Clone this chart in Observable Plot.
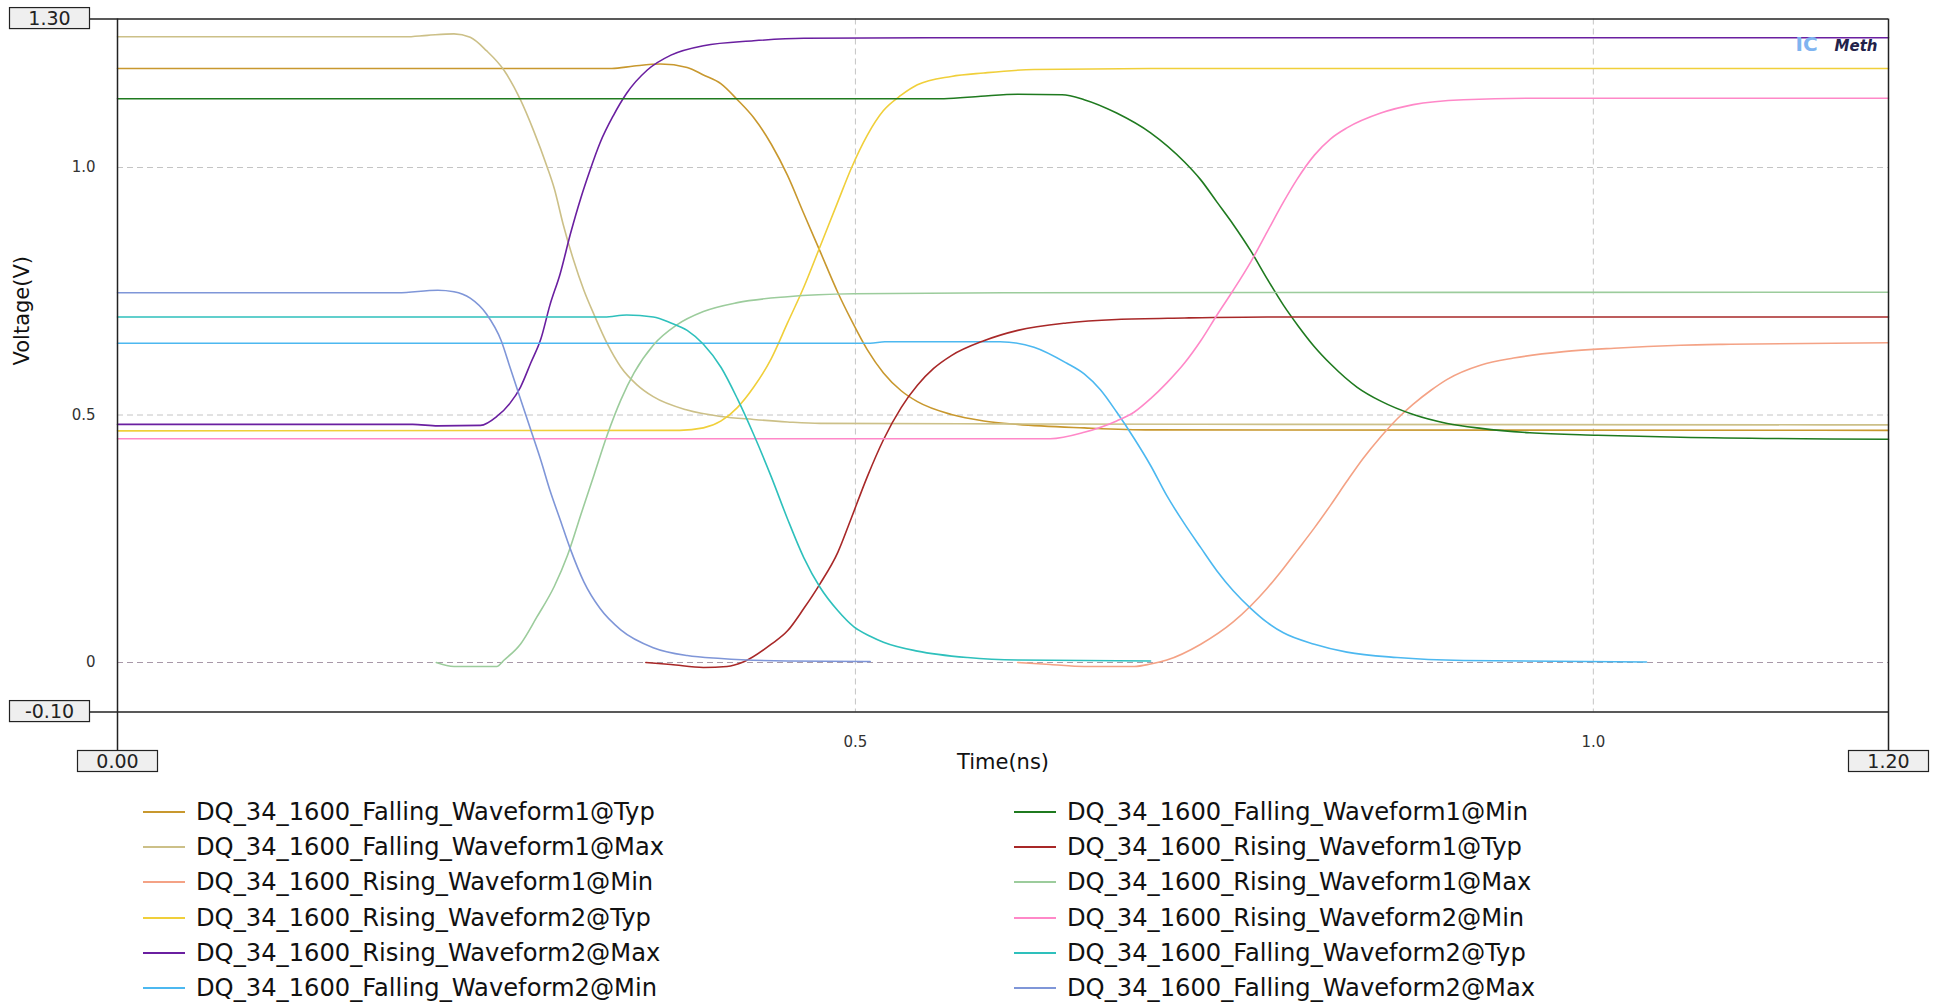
<!DOCTYPE html>
<html><head><meta charset="utf-8">
<script src="https://cdn.jsdelivr.net/npm/d3@7"></script>
<script src="https://cdn.jsdelivr.net/npm/@observablehq/plot@0.6"></script>
<style>
body{margin:0;background:#fff;font-family:"DejaVu Sans",sans-serif;}
#chart svg{display:block;}
#legend{display:grid;grid-template-columns:871px 871px;grid-auto-rows:35.3px;padding:4px 0 0 143px;width:1790px;}
.item{display:flex;align-items:center;font-size:24.2px;color:#111;white-space:nowrap;}
.item .sw{width:42px;height:0;border-top:2px solid;margin-right:11px;}
</style></head><body>
<div id="chart"></div><div id="legend"></div>
<script>
// ---- data: [time (ns), voltage (V)] ----
const fall1Typ = [[0,1.2],[0.335,1.2],[0.35,1.205],[0.368,1.209],[0.386,1.202],[0.397,1.187],[0.409,1.169],[0.42,1.137],[0.431,1.101],[0.443,1.047],[0.454,0.984],[0.465,0.907],[0.476,0.831],[0.488,0.748],[0.497,0.693],[0.508,0.632],[0.519,0.585],[0.531,0.549],[0.542,0.527],[0.565,0.501],[0.587,0.488],[0.61,0.481],[0.655,0.474],[0.7,0.47],[1.2,0.469]];
const fall1Max = [[0,1.264],[0.195,1.264],[0.21,1.267],[0.228,1.27],[0.239,1.263],[0.25,1.236],[0.262,1.196],[0.273,1.137],[0.282,1.074],[0.291,1.002],[0.296,0.957],[0.302,0.885],[0.309,0.813],[0.316,0.752],[0.323,0.702],[0.332,0.643],[0.341,0.597],[0.352,0.561],[0.363,0.537],[0.386,0.51],[0.409,0.497],[0.431,0.491],[0.454,0.486],[0.476,0.483],[0.6,0.482],[0.8,0.481],[1.2,0.48]];
const rise1Min = [[0.61,0],[0.632,-0.004],[0.655,-0.008],[0.689,-0.008],[0.7,-0.003],[0.711,0.005],[0.734,0.037],[0.756,0.082],[0.779,0.15],[0.79,0.19],[0.799,0.225],[0.811,0.272],[0.822,0.318],[0.833,0.366],[0.844,0.412],[0.856,0.456],[0.867,0.492],[0.878,0.522],[0.89,0.55],[0.901,0.572],[0.924,0.601],[0.946,0.615],[0.98,0.628],[1.014,0.635],[1.059,0.641],[1.093,0.643],[1.2,0.646]];
const rise2Typ = [[0,0.468],[0.381,0.469],[0.397,0.474],[0.409,0.488],[0.42,0.515],[0.431,0.556],[0.443,0.614],[0.454,0.686],[0.465,0.758],[0.476,0.84],[0.488,0.93],[0.497,0.997],[0.508,1.065],[0.519,1.115],[0.531,1.146],[0.542,1.167],[0.565,1.184],[0.587,1.191],[0.621,1.198],[0.7,1.2],[1.2,1.2]];
const rise2Max = [[0,0.481],[0.2,0.481],[0.217,0.478],[0.246,0.479],[0.257,0.497],[0.266,0.524],[0.273,0.556],[0.28,0.605],[0.287,0.655],[0.293,0.722],[0.3,0.786],[0.307,0.867],[0.314,0.939],[0.32,0.993],[0.327,1.05],[0.336,1.105],[0.345,1.15],[0.359,1.197],[0.375,1.227],[0.397,1.246],[0.431,1.256],[0.465,1.261],[0.55,1.262],[1.2,1.262]];
const fall2Min = [[0,0.645],[0.51,0.645],[0.52,0.648],[0.598,0.648],[0.621,0.637],[0.643,0.605],[0.655,0.583],[0.666,0.551],[0.677,0.506],[0.689,0.452],[0.7,0.398],[0.711,0.337],[0.723,0.28],[0.734,0.232],[0.745,0.185],[0.756,0.145],[0.768,0.109],[0.779,0.081],[0.79,0.06],[0.811,0.037],[0.833,0.021],[0.867,0.01],[0.912,0.004],[1.036,0.001]];
const fall1Min = [[0,1.139],[0.56,1.139],[0.585,1.144],[0.61,1.148],[0.64,1.147],[0.655,1.137],[0.677,1.11],[0.7,1.07],[0.723,1.011],[0.734,0.975],[0.745,0.93],[0.756,0.885],[0.768,0.831],[0.779,0.775],[0.79,0.722],[0.8,0.68],[0.811,0.638],[0.822,0.603],[0.84,0.556],[0.856,0.528],[0.878,0.501],[0.901,0.483],[0.924,0.473],[0.957,0.464],[1.003,0.459],[1.059,0.455],[1.2,0.451]];
const rise1Typ = [[0.358,0],[0.375,-0.004],[0.397,-0.01],[0.413,-0.008],[0.424,0.001],[0.443,0.037],[0.454,0.064],[0.465,0.109],[0.476,0.159],[0.488,0.222],[0.497,0.29],[0.508,0.375],[0.519,0.45],[0.531,0.515],[0.542,0.56],[0.553,0.594],[0.565,0.62],[0.587,0.65],[0.61,0.671],[0.643,0.686],[0.677,0.693],[0.723,0.696],[0.779,0.698],[1.2,0.698]];
const rise1Max = [[0.216,0],[0.228,-0.008],[0.257,-0.008],[0.262,0.005],[0.273,0.037],[0.284,0.091],[0.296,0.154],[0.305,0.217],[0.314,0.299],[0.323,0.38],[0.332,0.461],[0.341,0.53],[0.35,0.585],[0.363,0.641],[0.379,0.682],[0.397,0.709],[0.42,0.727],[0.454,0.739],[0.499,0.745],[0.6,0.747],[1.2,0.748]];
const rise2Min = [[0,0.452],[0.632,0.452],[0.655,0.465],[0.677,0.488],[0.689,0.506],[0.7,0.533],[0.711,0.565],[0.723,0.605],[0.734,0.65],[0.745,0.702],[0.756,0.752],[0.768,0.81],[0.779,0.87],[0.79,0.93],[0.799,0.975],[0.811,1.025],[0.822,1.058],[0.833,1.08],[0.856,1.11],[0.878,1.127],[0.912,1.137],[0.957,1.14],[1.2,1.14]];
const fall2Typ = [[0,0.698],[0.33,0.698],[0.345,0.702],[0.363,0.698],[0.375,0.686],[0.386,0.671],[0.397,0.643],[0.409,0.596],[0.42,0.533],[0.431,0.461],[0.443,0.375],[0.454,0.29],[0.465,0.212],[0.476,0.152],[0.488,0.105],[0.499,0.072],[0.51,0.053],[0.519,0.041],[0.542,0.023],[0.576,0.01],[0.61,0.005],[0.7,0.003]];
const fall2Max = [[0,0.747],[0.19,0.747],[0.217,0.752],[0.228,0.749],[0.239,0.736],[0.25,0.704],[0.26,0.65],[0.266,0.596],[0.273,0.533],[0.28,0.47],[0.287,0.407],[0.293,0.348],[0.3,0.288],[0.307,0.228],[0.316,0.163],[0.327,0.109],[0.341,0.066],[0.363,0.03],[0.386,0.014],[0.409,0.008],[0.454,0.003],[0.51,0.002]];

const names = [
  "DQ_34_1600_Falling_Waveform1@Typ","DQ_34_1600_Falling_Waveform1@Max","DQ_34_1600_Rising_Waveform1@Min",
  "DQ_34_1600_Rising_Waveform2@Typ","DQ_34_1600_Rising_Waveform2@Max","DQ_34_1600_Falling_Waveform2@Min",
  "DQ_34_1600_Falling_Waveform1@Min","DQ_34_1600_Rising_Waveform1@Typ","DQ_34_1600_Rising_Waveform1@Max",
  "DQ_34_1600_Rising_Waveform2@Min","DQ_34_1600_Falling_Waveform2@Typ","DQ_34_1600_Falling_Waveform2@Max"];
const colors = ["#c8982e","#ccc088","#f4a285","#f0cf3a","#6a1fa0","#4cb8f0",
                "#1f7a1f","#a82828","#9ccc9c","#ff88c8","#2ec0bc","#7f96d8"];
const seriesPts = [fall1Typ,fall1Max,rise1Min,rise2Typ,rise2Max,fall2Min,fall1Min,rise1Typ,rise1Max,rise2Min,fall2Typ,fall2Max];

const xTicks = [0.5, 1.0];
const yTicks = [0, 0.5, 1.0];
const xEnds = [0, 1.2];
const yEnds = [1.3, -0.1];

const data = seriesPts.flatMap((pts, i) => pts.map(([t, v]) => ({name: names[i], t, v})));
const endLabels = [...yEnds, ...xEnds].map(d => d.toFixed(2));

const chart = Plot.plot({
  width: 1933, height: 790,
  marginLeft: 117, marginRight: 45, marginTop: 18.5, marginBottom: 78.5,
  style: {fontFamily: "DejaVu Sans", fontSize: "15px", color: "#333", background: "#fff", overflow: "visible"},
  x: {domain: [xEnds[0], xEnds[1]]},
  y: {domain: [yEnds[1], yEnds[0]]},
  color: {domain: names, range: colors},
  marks: [
    Plot.gridX(xTicks, {stroke: "#c4c4c4", strokeOpacity: 1, strokeDasharray: "6,4"}),
    Plot.gridY(yTicks.filter(d => d !== 0), {stroke: "#c4c4c4", strokeOpacity: 1, strokeDasharray: "6,4"}),
    Plot.ruleY([0], {stroke: "#a898a8", strokeDasharray: "6,4"}),
    Plot.line(data, {x: "t", y: "v", z: "name", stroke: "name", strokeWidth: 1.6, curve: "monotone-x"}),
    Plot.ruleY(yEnds, {stroke: "#222", strokeWidth: 1.5, insetLeft: -28}),
    Plot.ruleX(xEnds, {stroke: "#222", strokeWidth: 1.5, insetBottom: -46}),
    Plot.axisY(yTicks, {tickSize: 0, tickPadding: 22, fontSize: 15, label: null,
      tickFormat: d => d === 0 ? "0" : d.toFixed(1)}),
    Plot.axisX(xTicks, {tickSize: 0, tickPadding: 24, fontSize: 15, label: null,
      tickFormat: d => d.toFixed(1)}),
    Plot.text(yEnds, {y: d => d, frameAnchor: "left", dx: -68, textAnchor: "middle",
      text: d => d.toFixed(2), fontSize: 19, fill: "#222"}),
    Plot.text(xEnds, {x: d => d, frameAnchor: "bottom", dy: 56, textAnchor: "middle",
      text: d => d.toFixed(2), fontSize: 19, fill: "#222"}),
    Plot.text(["Time(ns)"], {frameAnchor: "bottom", dy: 57, text: d => d, fontSize: 21, fill: "#111"}),
    Plot.text(["Voltage(V)"], {frameAnchor: "left", dx: -95, rotate: -90, text: d => d, fontSize: 21, fill: "#111"}),
    Plot.text(["IC"], {frameAnchor: "top-right", dx: -82, dy: 26, text: d => d, textAnchor: "middle",
      lineAnchor: "middle", fontSize: 20, fontWeight: "bold", fill: "#7fb4f0"}),
    Plot.text(["Meth"], {frameAnchor: "top-right", dx: -11, dy: 27, text: d => d, textAnchor: "end",
      lineAnchor: "middle", fontSize: 15, fontWeight: "bold", fontStyle: "italic", fill: "#22224a"})
  ]
});
document.getElementById("chart").append(chart);

// boxes behind the axis-end labels
chart.querySelectorAll("text").forEach(t => {
  if (!endLabels.includes(t.textContent.trim())) return;
  if (t.closest('g[aria-label^="x-axis"], g[aria-label^="y-axis"]')) return;
  const b = t.getBBox();
  const cx = b.x + b.width / 2, cy = b.y + b.height / 2;
  const r = document.createElementNS("http://www.w3.org/2000/svg", "rect");
  r.setAttribute("x", cx - 40); r.setAttribute("y", cy - 10.5);
  r.setAttribute("width", 80); r.setAttribute("height", 21);
  r.setAttribute("fill", "#efefef"); r.setAttribute("stroke", "#222"); r.setAttribute("stroke-width", 1.2);
  if (t.getAttribute("transform")) r.setAttribute("transform", t.getAttribute("transform"));
  t.parentNode.insertBefore(r, t);
});

// legend: two columns, six rows
const legend = document.getElementById("legend");
for (let row = 0; row < 6; row++) {
  for (let col = 0; col < 2; col++) {
    const i = col * 6 + row;
    const el = document.createElement("div");
    el.className = "item";
    el.innerHTML = `<span class="sw" style="border-color:${colors[i]}"></span><span>${names[i]}</span>`;
    legend.append(el);
  }
}
</script>
</body></html>
